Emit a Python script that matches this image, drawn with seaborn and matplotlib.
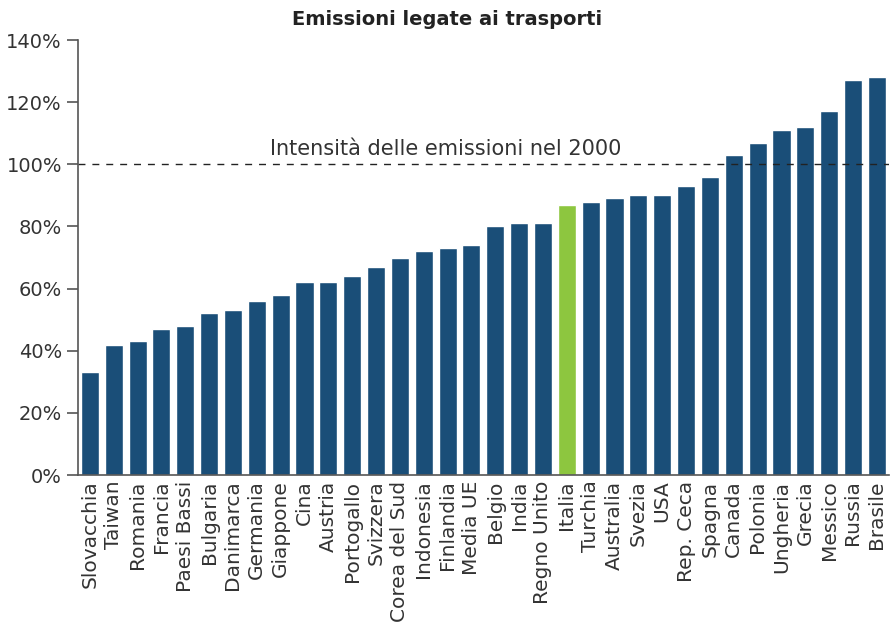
import matplotlib
matplotlib.use("Agg")
import matplotlib.pyplot as plt
import seaborn as sns
import pandas as pd

paesi = ["Slovacchia", "Taiwan", "Romania", "Francia", "Paesi Bassi", "Bulgaria",
         "Danimarca", "Germania", "Giappone", "Cina", "Austria", "Portogallo",
         "Svizzera", "Corea del Sud", "Indonesia", "Finlandia", "Media UE", "Belgio",
         "India", "Regno Unito", "Italia", "Turchia", "Australia", "Svezia", "USA",
         "Rep. Ceca", "Spagna", "Canada", "Polonia", "Ungheria", "Grecia", "Messico",
         "Russia", "Brasile"]
valori = [33, 42, 43, 47, 48, 52, 53, 56, 58, 62, 62, 64, 67, 70, 72, 73, 74, 80,
          81, 81, 87, 88, 89, 90, 90, 93, 96, 103, 107, 111, 112, 117, 127, 128]
y_ticks = [0, 20, 40, 60, 80, 100, 120, 140]

blu = "#1a4e78"
verde = "#8dc63f"

df = pd.DataFrame({"paese": paesi, "valore": valori})
colori = {p: (verde if p == "Italia" else blu) for p in paesi}

sns.set_style("white")
plt.rcParams["font.family"] = ["DejaVu Sans"]

fig = plt.figure(figsize=(8.9, 6.33), dpi=100)
ax = fig.add_axes([0.0876, 0.2496, 0.911, 0.6872])

sns.barplot(data=df, x="paese", y="valore", hue="paese", palette=colori,
            legend=False, width=0.76, saturation=1, ax=ax)

ax.axhline(100, color="#222222", linestyle=(0, (5, 5)), linewidth=1)
ax.text(0.453, 100 + 1.8, "Intensità delle emissioni nel 2000", transform=ax.get_yaxis_transform(),
        ha="center", va="bottom", fontsize=15, color="#333333")

ax.set_xlim(-0.5, len(paesi) - 0.5)
ax.set_ylim(0, 140)
ax.set_yticks(y_ticks)
ax.set_yticklabels([f"{v}%" for v in y_ticks], fontsize=14, color="#333333")
ax.tick_params(axis="x", labelsize=14.5, labelrotation=90, length=0, pad=4, colors="#333333")
ax.tick_params(axis="y", length=8, width=1.2, color="#555555", left=True)
for s in ["top", "right"]:
    ax.spines[s].set_visible(False)
ax.spines["left"].set_color("#555555")
ax.spines["left"].set_linewidth(1.2)
ax.spines["bottom"].set_color("#555555")
ax.spines["bottom"].set_linewidth(1.2)
ax.set_xlabel("")
ax.set_ylabel("")
fig.suptitle("Emissioni legate ai trasporti", x=0.502, y=0.984, va="top",
             fontsize=14, fontweight="bold", color="#222222")

fig.savefig("out.png", dpi=100)
